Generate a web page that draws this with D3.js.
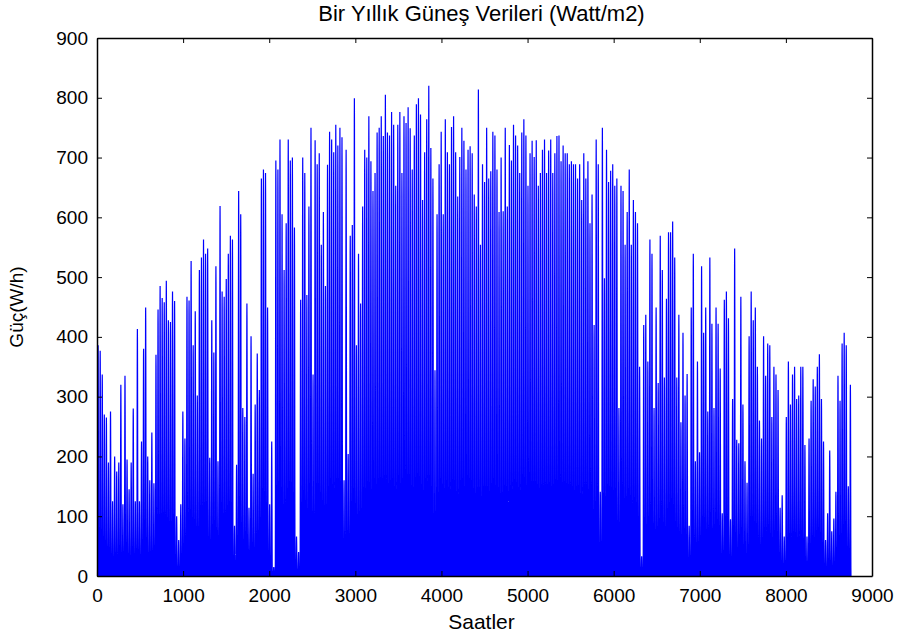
<!DOCTYPE html>
<head>
<meta charset="utf-8">
<title>Bir Yıllık Güneş Verileri</title>
<script src="https://d3js.org/d3.v7.min.js"></script>
<style>
body { margin: 0; background: #fff; }
text { font-family: Arial, "Liberation Sans", sans-serif; fill: #000; }
</style>
</head>
<body>
<div id="chart"></div>
<script>

// daily peak (W/m2), one per day of the year
var peaksJanFeb = [386,377,337,270,265,190,275,125,200,175,190,320,120,335,195,145,190,280,125,413,
  125,225,380,449,200,160,240,155,370,446,485,465,458,494,428,425,476,460,100,60,120,275,230,467];
var peaksFebApr = [461,527,386,443,302,512,533,563,539,548,198,428,374,518,192,619,476,467,497,539,
  569,563,84,186,644,605,281,266,456,114,401,171,287,372,311,665,680,674,449,120,225,15,695,680,730,
  605,512,590,730,695];
var peaksAprMay = [700,583,66,40,462,700,674,470,618,750,337,729,689,707,554,609,485,688,743,730,
  709,755,720,750,734,160,713,204,569,587,799,386,539,456,618,713,700,769,694,644,674,742,750,769,736,805];
var peaksMayJul = [742,737,776,755,653,755,776,674,769,758,784,749,680,737,789,799,772,629,709,764,
  820,716,665,344,605,689,743,605,764,709,689,751,769,709,635,701,750,728,680,713,719,707,638,618];
var peaksJulAug = [814,554,689,659,750,665,677,743,737,680,609,700,610,750,618,721,695,755,737,720,
  674,742,764,737,653,707,728,701,729,653,674,713,730,674,712,730,674,707,736,737,694,720,707,707,689,694,689,689];
var peaksAugOct = [665,689,629,707,665,694,590,638,420,730,689,141,750,498,713,659,678,689,653,665,
  281,653,644,554,609,680,554,629,609,590,350,33,420,437,359,563,539,281,449,323,569,512,332,464,575,575];
var peaksOctNov = [593,533,332,437,257,407,302,338,84,449,539,192,359,207,518,407,449,275,533,422,
  281,449,422,347,105,462,476,431,95,296,548,228,222,467,287,192,156,401,476,428,449,350,260];
var peaksNovDec = [230,401,335,389,386,266,350,337,311,114,135,66,266,359,287,337,350,296,302,350,
  350,219,66,230,293,329,317,350,371,296,225,60,105,210,75,96,141,335,293,389,407,386,150,320];

// share of the daily peak reached in each hour of the day
var hourShape = [0,0,0,0,0,0,0.04,0.2,0.42,0.63,0.82,0.95,1,0.95,0.82,0.63,0.42,0.2,0.04,0,0,0,0,0];

var xTicks = [0,1000,2000,3000,4000,5000,6000,7000,8000,9000];
var yTicks = [0,100,200,300,400,500,600,700,800,900];

var dailyPeak = [].concat(peaksJanFeb, peaksFebApr, peaksAprMay, peaksMayJul,
  peaksJulAug, peaksAugOct, peaksOctNov, peaksNovDec).slice(0, 365);

var hourly = [];
dailyPeak.forEach(function(p, d) {
  hourShape.forEach(function(s, h) {
    hourly.push({ hour: d * 24 + h + 1, value: p * s });
  });
});

var margin = {top: 38, right: 28, bottom: 68, left: 97},
    width = 900 - margin.left - margin.right,
    height = 644 - margin.top - margin.bottom;

var svg = d3.select("#chart")
  .append("svg")
    .attr("width", 900)
    .attr("height", 644)
  .append("g")
    .attr("transform", "translate(" + margin.left + "," + margin.top + ")");

var x = d3.scaleLinear().domain([0, 9000]).range([0, width]);
var y = d3.scaleLinear().domain([0, 900]).range([height, 0]);

svg.append("path")
  .datum(hourly)
  .attr("fill", "none")
  .attr("stroke", "#0000ff")
  .attr("stroke-width", 1.2)
  .attr("d", d3.line()
    .x(function(d) { return x(d.hour); })
    .y(function(d) { return y(d.value); }));

// box with inward ticks, MATLAB style
svg.append("g")
  .attr("class", "axis")
  .attr("transform", "translate(0," + height + ")")
  .call(d3.axisBottom(x).tickValues(xTicks).tickFormat(d3.format("d"))
    .tickSizeInner(-5).tickSizeOuter(0).tickPadding(13));
svg.append("g")
  .attr("class", "axis")
  .call(d3.axisTop(x).tickValues(xTicks).tickSizeInner(-5).tickSizeOuter(0).tickFormat(""));
svg.append("g")
  .attr("class", "axis")
  .call(d3.axisLeft(y).tickValues(yTicks).tickFormat(d3.format("d"))
    .tickSizeInner(-5).tickSizeOuter(0).tickPadding(9));
svg.append("g")
  .attr("class", "axis")
  .attr("transform", "translate(" + width + ",0)")
  .call(d3.axisRight(y).tickValues(yTicks).tickSizeInner(-5).tickSizeOuter(0).tickFormat(""));

svg.selectAll(".axis path").attr("stroke", "#000").attr("stroke-width", 1.5);
svg.selectAll(".axis line").attr("stroke", "#000");
svg.selectAll(".axis text")
  .style("font-family", "Arial, 'Liberation Sans', sans-serif")
  .style("font-size", "19px")
  .attr("fill", "#000");

svg.append("text")
  .attr("x", width / 2 - 3)
  .attr("y", -17)
  .style("text-anchor", "middle")
  .style("font-size", "22px")
  .text("Bir Yıllık Güneş Verileri (Watt/m2)");

svg.append("text")
  .attr("x", width / 2 - 3)
  .attr("y", height + 53)
  .style("text-anchor", "middle")
  .style("font-size", "21px")
  .text("Saatler");

svg.append("text")
  .attr("transform", "translate(" + (-74) + "," + (height / 2) + ")rotate(-90)")
  .style("text-anchor", "middle")
  .style("font-size", "19px")
  .text("Güç(W/h)");

</script>
</body>
